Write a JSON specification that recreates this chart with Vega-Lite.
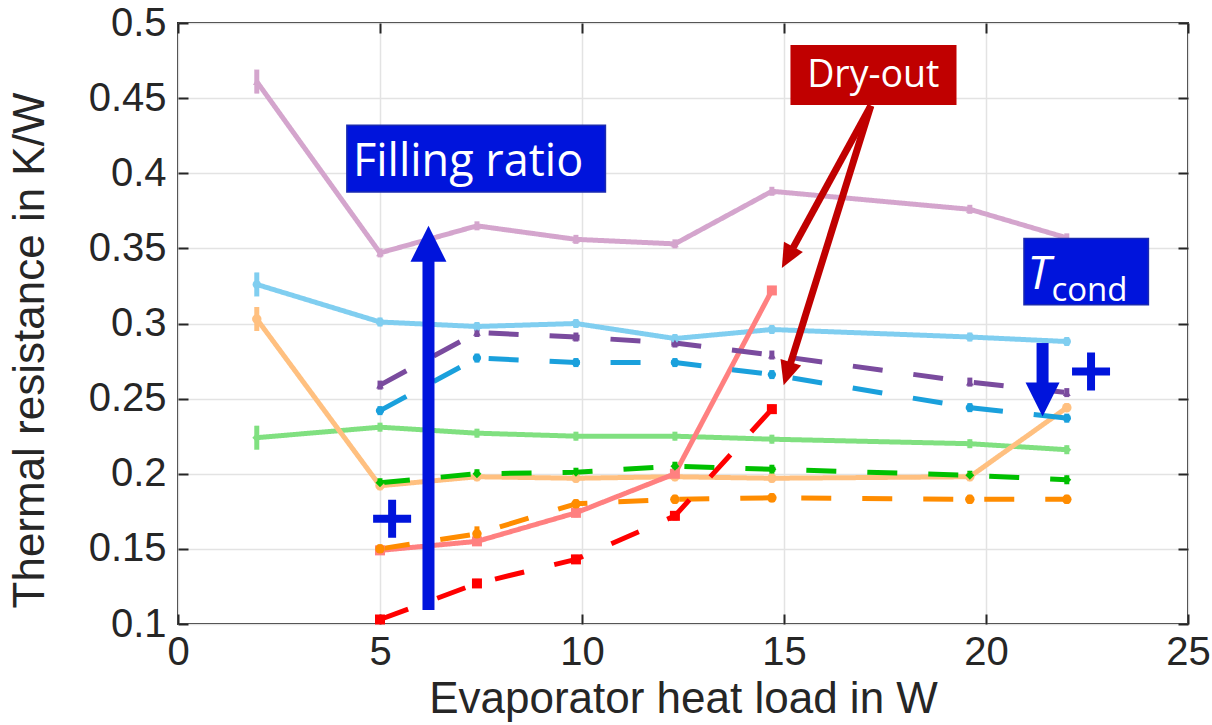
{
  "$schema": "https://vega.github.io/schema/vega-lite/v6.json",
  "width": 1010,
  "height": 601,
  "autosize": {"type": "none"},
  "padding": {"left": 178, "top": 23, "right": 24, "bottom": 101},
  "background": "white",
  "config": {
    "view": {"stroke": "#262626", "strokeWidth": 2},
    "font": "Liberation Sans",
    "axis": {
      "domain": false,
      "gridColor": "#E3E3E3",
      "gridWidth": 1.5,
      "tickColor": "#262626",
      "tickWidth": 2,
      "tickSize": -10,
      "labelFont": "Liberation Sans",
      "labelColor": "#262626",
      "labelFontSize": 40,
      "labelFlush": false,
      "labelOverlap": false,
      "titleFont": "Liberation Sans",
      "titleColor": "#262626",
      "titleFontSize": 44,
      "titleFontWeight": "normal"
    }
  },
  "datasets": {
    "pts": [
      {"series": "FR5-low", "fr": "FR5", "tc": "low", "x": 1.95, "y": 0.461, "err": 0.008},
      {"series": "FR5-low", "fr": "FR5", "tc": "low", "x": 5.0, "y": 0.347, "err": 0.003},
      {"series": "FR5-low", "fr": "FR5", "tc": "low", "x": 7.4, "y": 0.365, "err": 0.003},
      {"series": "FR5-low", "fr": "FR5", "tc": "low", "x": 9.85, "y": 0.356, "err": 0.003},
      {"series": "FR5-low", "fr": "FR5", "tc": "low", "x": 12.3, "y": 0.353, "err": 0.003},
      {"series": "FR5-low", "fr": "FR5", "tc": "low", "x": 14.7, "y": 0.388, "err": 0.003},
      {"series": "FR5-low", "fr": "FR5", "tc": "low", "x": 19.6, "y": 0.376, "err": 0.003},
      {"series": "FR5-low", "fr": "FR5", "tc": "low", "x": 22.0, "y": 0.357, "err": 0.003},

      {"series": "FR4-low", "fr": "FR4", "tc": "low", "x": 1.95, "y": 0.326, "err": 0.008},
      {"series": "FR4-low", "fr": "FR4", "tc": "low", "x": 5.0, "y": 0.301, "err": 0.003},
      {"series": "FR4-low", "fr": "FR4", "tc": "low", "x": 7.4, "y": 0.298, "err": 0.003},
      {"series": "FR4-low", "fr": "FR4", "tc": "low", "x": 9.85, "y": 0.300, "err": 0.003},
      {"series": "FR4-low", "fr": "FR4", "tc": "low", "x": 12.3, "y": 0.290, "err": 0.003},
      {"series": "FR4-low", "fr": "FR4", "tc": "low", "x": 14.7, "y": 0.296, "err": 0.003},
      {"series": "FR4-low", "fr": "FR4", "tc": "low", "x": 19.6, "y": 0.291, "err": 0.003},
      {"series": "FR4-low", "fr": "FR4", "tc": "low", "x": 22.0, "y": 0.288, "err": 0.003},

      {"series": "FR3-low", "fr": "FR3", "tc": "low", "x": 1.95, "y": 0.224, "err": 0.008},
      {"series": "FR3-low", "fr": "FR3", "tc": "low", "x": 5.0, "y": 0.231, "err": 0.003},
      {"series": "FR3-low", "fr": "FR3", "tc": "low", "x": 7.4, "y": 0.227, "err": 0.003},
      {"series": "FR3-low", "fr": "FR3", "tc": "low", "x": 9.85, "y": 0.225, "err": 0.003},
      {"series": "FR3-low", "fr": "FR3", "tc": "low", "x": 12.3, "y": 0.225, "err": 0.003},
      {"series": "FR3-low", "fr": "FR3", "tc": "low", "x": 14.7, "y": 0.223, "err": 0.003},
      {"series": "FR3-low", "fr": "FR3", "tc": "low", "x": 19.6, "y": 0.220, "err": 0.003},
      {"series": "FR3-low", "fr": "FR3", "tc": "low", "x": 22.0, "y": 0.216, "err": 0.003},

      {"series": "FR2-low", "fr": "FR2", "tc": "low", "x": 1.95, "y": 0.303, "err": 0.008},
      {"series": "FR2-low", "fr": "FR2", "tc": "low", "x": 5.0, "y": 0.192, "err": 0.003},
      {"series": "FR2-low", "fr": "FR2", "tc": "low", "x": 7.4, "y": 0.198, "err": 0.003},
      {"series": "FR2-low", "fr": "FR2", "tc": "low", "x": 9.85, "y": 0.197, "err": 0.003},
      {"series": "FR2-low", "fr": "FR2", "tc": "low", "x": 12.3, "y": 0.198, "err": 0.003},
      {"series": "FR2-low", "fr": "FR2", "tc": "low", "x": 14.7, "y": 0.197, "err": 0.003},
      {"series": "FR2-low", "fr": "FR2", "tc": "low", "x": 19.6, "y": 0.198, "err": 0.003},
      {"series": "FR2-low", "fr": "FR2", "tc": "low", "x": 22.0, "y": 0.244, "err": 0.003},

      {"series": "FR1-low", "fr": "FR1", "tc": "low", "x": 5.0, "y": 0.149, "err": 0.003},
      {"series": "FR1-low", "fr": "FR1", "tc": "low", "x": 7.4, "y": 0.155, "err": 0.003},
      {"series": "FR1-low", "fr": "FR1", "tc": "low", "x": 9.85, "y": 0.174, "err": 0.003},
      {"series": "FR1-low", "fr": "FR1", "tc": "low", "x": 12.3, "y": 0.200, "err": 0.003},
      {"series": "FR1-low", "fr": "FR1", "tc": "low", "x": 14.7, "y": 0.322, "err": 0.003},

      {"series": "FR5-high", "fr": "FR5", "tc": "high", "x": 5.0, "y": 0.259, "err": 0.003},
      {"series": "FR5-high", "fr": "FR5", "tc": "high", "x": 7.4, "y": 0.294, "err": 0.003},
      {"series": "FR5-high", "fr": "FR5", "tc": "high", "x": 9.85, "y": 0.291, "err": 0.003},
      {"series": "FR5-high", "fr": "FR5", "tc": "high", "x": 12.3, "y": 0.287, "err": 0.003},
      {"series": "FR5-high", "fr": "FR5", "tc": "high", "x": 14.7, "y": 0.279, "err": 0.003},
      {"series": "FR5-high", "fr": "FR5", "tc": "high", "x": 19.6, "y": 0.261, "err": 0.003},
      {"series": "FR5-high", "fr": "FR5", "tc": "high", "x": 22.0, "y": 0.254, "err": 0.003},

      {"series": "FR4-high", "fr": "FR4", "tc": "high", "x": 5.0, "y": 0.242, "err": 0.003},
      {"series": "FR4-high", "fr": "FR4", "tc": "high", "x": 7.4, "y": 0.277, "err": 0.003},
      {"series": "FR4-high", "fr": "FR4", "tc": "high", "x": 9.85, "y": 0.274, "err": 0.003},
      {"series": "FR4-high", "fr": "FR4", "tc": "high", "x": 12.3, "y": 0.274, "err": 0.003},
      {"series": "FR4-high", "fr": "FR4", "tc": "high", "x": 14.7, "y": 0.266, "err": 0.003},
      {"series": "FR4-high", "fr": "FR4", "tc": "high", "x": 19.6, "y": 0.244, "err": 0.003},
      {"series": "FR4-high", "fr": "FR4", "tc": "high", "x": 22.0, "y": 0.237, "err": 0.003},

      {"series": "FR3-high", "fr": "FR3", "tc": "high", "x": 5.0, "y": 0.194, "err": 0.003},
      {"series": "FR3-high", "fr": "FR3", "tc": "high", "x": 7.4, "y": 0.200, "err": 0.003},
      {"series": "FR3-high", "fr": "FR3", "tc": "high", "x": 9.85, "y": 0.201, "err": 0.003},
      {"series": "FR3-high", "fr": "FR3", "tc": "high", "x": 12.3, "y": 0.205, "err": 0.003},
      {"series": "FR3-high", "fr": "FR3", "tc": "high", "x": 14.7, "y": 0.203, "err": 0.003},
      {"series": "FR3-high", "fr": "FR3", "tc": "high", "x": 19.6, "y": 0.199, "err": 0.003},
      {"series": "FR3-high", "fr": "FR3", "tc": "high", "x": 22.0, "y": 0.196, "err": 0.003},

      {"series": "FR2-high", "fr": "FR2", "tc": "high", "x": 5.0, "y": 0.150, "err": 0.003},
      {"series": "FR2-high", "fr": "FR2", "tc": "high", "x": 7.4, "y": 0.160, "err": 0.005},
      {"series": "FR2-high", "fr": "FR2", "tc": "high", "x": 9.85, "y": 0.180, "err": 0.003},
      {"series": "FR2-high", "fr": "FR2", "tc": "high", "x": 12.3, "y": 0.183, "err": 0.003},
      {"series": "FR2-high", "fr": "FR2", "tc": "high", "x": 14.7, "y": 0.184, "err": 0.003},
      {"series": "FR2-high", "fr": "FR2", "tc": "high", "x": 19.6, "y": 0.183, "err": 0.003},
      {"series": "FR2-high", "fr": "FR2", "tc": "high", "x": 22.0, "y": 0.183, "err": 0.003},

      {"series": "FR1-high", "fr": "FR1", "tc": "high", "x": 5.0, "y": 0.103, "err": 0.003},
      {"series": "FR1-high", "fr": "FR1", "tc": "high", "x": 7.4, "y": 0.127, "err": 0.003},
      {"series": "FR1-high", "fr": "FR1", "tc": "high", "x": 9.85, "y": 0.143, "err": 0.003},
      {"series": "FR1-high", "fr": "FR1", "tc": "high", "x": 12.3, "y": 0.172, "err": 0.003},
      {"series": "FR1-high", "fr": "FR1", "tc": "high", "x": 14.7, "y": 0.243, "err": 0.003}
    ],
    "blueBoxes": [
      {"x1": 4.18, "x2": 10.58, "y1": 0.3875, "y2": 0.432},
      {"x1": 20.94, "x2": 24.02, "y1": 0.3125, "y2": 0.3565}
    ],
    "redBox": [
      {"x1": 15.16, "x2": 19.27, "y1": 0.4454, "y2": 0.4853}
    ]
  },
  "layer": [
    {
      "data": {"name": "pts"},
      "mark": {"type": "line", "strokeWidth": 5, "strokeJoin": "round"},
      "encoding": {
        "x": {
          "field": "x", "type": "quantitative",
          "scale": {"domain": [0, 25], "nice": false, "zero": false},
          "axis": {
            "orient": "bottom", "values": [0, 5, 10, 15, 20, 25], "grid": true,
            "title": "Evaporator heat load in W", "labelPadding": 18, "titlePadding": 5
          }
        },
        "y": {
          "field": "y", "type": "quantitative",
          "scale": {"domain": [0.1, 0.5], "nice": false, "zero": false},
          "axis": {
            "orient": "left", "values": [0.1, 0.15, 0.2, 0.25, 0.3, 0.35, 0.4, 0.45, 0.5],
            "format": "~g", "grid": true,
            "title": "Thermal resistance in K/W", "labelPadding": 22, "titlePadding": 36,
            "titleY": 327
          }
        },
        "color": {
          "field": "series", "type": "nominal", "legend": null,
          "scale": {
            "domain": ["FR1-low", "FR2-low", "FR3-low", "FR4-low", "FR5-low", "FR1-high", "FR2-high", "FR3-high", "FR4-high", "FR5-high"],
            "range": ["#FF8080", "#FFC080", "#80E080", "#80CEF0", "#D4A5CD", "#FF0000", "#FF8C00", "#00C000", "#1AA0DC", "#7A4B9E"]
          }
        },
        "strokeDash": {
          "field": "tc", "type": "nominal", "legend": null,
          "scale": {"domain": ["low", "high"], "range": [[1, 0], [30, 31]]}
        }
      }
    },
    {
      "data": {"name": "pts"},
      "mark": {"type": "errorbar", "ticks": false, "rule": {"strokeWidth": 5}},
      "encoding": {
        "x": {
          "field": "x", "type": "quantitative",
          "axis": {"orient": "top", "values": [0, 5, 10, 15, 20, 25], "labels": false, "title": null, "grid": false}
        },
        "y": {
          "field": "y", "type": "quantitative",
          "axis": {"orient": "right", "values": [0.1, 0.15, 0.2, 0.25, 0.3, 0.35, 0.4, 0.45, 0.5], "labels": false, "title": null, "grid": false}
        },
        "yError": {"field": "err"},
        "color": {"field": "series", "type": "nominal", "legend": null}
      }
    },
    {
      "data": {"name": "pts"},
      "mark": {"type": "point", "filled": true, "opacity": 1},
      "encoding": {
        "x": {"field": "x", "type": "quantitative", "axis": null},
        "y": {"field": "y", "type": "quantitative", "axis": null},
        "color": {"field": "series", "type": "nominal", "legend": null},
        "shape": {
          "field": "fr", "type": "nominal", "legend": null,
          "scale": {"domain": ["FR1", "FR2", "FR3", "FR4", "FR5"], "range": ["square", "circle", "diamond", "circle", "triangle-up"]}
        },
        "size": {
          "field": "fr", "type": "nominal", "legend": null,
          "scale": {"domain": ["FR1", "FR2", "FR3", "FR4", "FR5"], "range": [100, 60, 160, 60, 150]}
        }
      }
    },
    {
      "data": {"name": "blueBoxes"},
      "mark": {"type": "rect", "fill": "#0014DC", "stroke": "#1A2AB0", "strokeWidth": 1.5},
      "encoding": {
        "x": {"field": "x1", "type": "quantitative", "axis": null},
        "x2": {"field": "x2"},
        "y": {"field": "y1", "type": "quantitative", "axis": null},
        "y2": {"field": "y2"}
      }
    },
    {
      "data": {"name": "redBox"},
      "mark": {"type": "rect", "fill": "#C00000"},
      "encoding": {
        "x": {"field": "x1", "type": "quantitative", "axis": null},
        "x2": {"field": "x2"},
        "y": {"field": "y1", "type": "quantitative", "axis": null},
        "y2": {"field": "y2"}
      }
    },
    {
      "data": {"values": [{"x": 7.18, "y": 0.3982, "label": "Filling ratio"}]},
      "mark": {"type": "text", "font": "Open Sans", "fontSize": 45, "color": "white", "align": "center", "baseline": "alphabetic"},
      "encoding": {
        "x": {"field": "x", "type": "quantitative", "axis": null},
        "y": {"field": "y", "type": "quantitative", "axis": null},
        "text": {"field": "label"}
      }
    },
    {
      "data": {"values": [{"x": 17.21, "y": 0.4571, "label": "Dry-out"}]},
      "mark": {"type": "text", "font": "Open Sans", "fontSize": 37.5, "color": "white", "align": "center", "baseline": "alphabetic"},
      "encoding": {
        "x": {"field": "x", "type": "quantitative", "axis": null},
        "y": {"field": "y", "type": "quantitative", "axis": null},
        "text": {"field": "label"}
      }
    },
    {
      "data": {"values": [{"x": 21.03, "y": 0.3227, "label": "T"}]},
      "mark": {"type": "text", "font": "Open Sans", "fontStyle": "italic", "fontSize": 46, "color": "white", "align": "left", "baseline": "alphabetic"},
      "encoding": {
        "x": {"field": "x", "type": "quantitative", "axis": null},
        "y": {"field": "y", "type": "quantitative", "axis": null},
        "text": {"field": "label"}
      }
    },
    {
      "data": {"values": [{"x": 21.62, "y": 0.3149, "label": "cond"}]},
      "mark": {"type": "text", "font": "Open Sans", "fontSize": 33, "color": "white", "align": "left", "baseline": "alphabetic"},
      "encoding": {
        "x": {"field": "x", "type": "quantitative", "axis": null},
        "y": {"field": "y", "type": "quantitative", "axis": null},
        "text": {"field": "label"}
      }
    },
    {
      "data": {"values": [
        {"x": 6.2, "y": 0.1093, "x2": 6.2, "y2": 0.343},
        {"x": 21.4, "y": 0.287, "x2": 21.4, "y2": 0.258}
      ]},
      "mark": {"type": "rule", "color": "#0014DC", "strokeWidth": 12},
      "encoding": {
        "x": {"field": "x", "type": "quantitative", "axis": null},
        "y": {"field": "y", "type": "quantitative", "axis": null},
        "x2": {"field": "x2"},
        "y2": {"field": "y2"}
      }
    },
    {
      "data": {"values": [{"x": 6.2, "y": 0.353}]},
      "mark": {"type": "point", "shape": "M0,-1L1,1L-1,1Z", "size": 1296, "filled": true, "color": "#0014DC", "opacity": 1},
      "encoding": {
        "x": {"field": "x", "type": "quantitative", "axis": null},
        "y": {"field": "y", "type": "quantitative", "axis": null}
      }
    },
    {
      "data": {"values": [{"x": 21.4, "y": 0.2495}]},
      "mark": {"type": "point", "shape": "M-1,-1L1,-1L0,1Z", "size": 1156, "filled": true, "color": "#0014DC", "opacity": 1},
      "encoding": {
        "x": {"field": "x", "type": "quantitative", "axis": null},
        "y": {"field": "y", "type": "quantitative", "axis": null}
      }
    },
    {
      "data": {"values": [
        {"x": 17.15, "y": 0.445, "x2": 15.19, "y2": 0.3487},
        {"x": 17.15, "y": 0.445, "x2": 15.14, "y2": 0.2717}
      ]},
      "mark": {"type": "rule", "color": "#C00000", "strokeWidth": 7},
      "encoding": {
        "x": {"field": "x", "type": "quantitative", "axis": null},
        "y": {"field": "y", "type": "quantitative", "axis": null},
        "x2": {"field": "x2"},
        "y2": {"field": "y2"}
      }
    },
    {
      "data": {"values": [{"x": 15.09, "y": 0.344}]},
      "mark": {"type": "point", "shape": "M0,-1L0.9,1L-0.9,1Z", "size": 576, "angle": 208.8, "filled": true, "color": "#C00000", "opacity": 1},
      "encoding": {
        "x": {"field": "x", "type": "quantitative", "axis": null},
        "y": {"field": "y", "type": "quantitative", "axis": null}
      }
    },
    {
      "data": {"values": [{"x": 15.08, "y": 0.2666}]},
      "mark": {"type": "point", "shape": "M0,-1L0.9,1L-0.9,1Z", "size": 576, "angle": 197.4, "filled": true, "color": "#C00000", "opacity": 1},
      "encoding": {
        "x": {"field": "x", "type": "quantitative", "axis": null},
        "y": {"field": "y", "type": "quantitative", "axis": null}
      }
    },
    {
      "data": {"values": [{"x": 5.3, "y": 0.17}, {"x": 22.6, "y": 0.268}]},
      "mark": {"type": "point", "shape": "M-1,-0.21H1V0.21H-1Z M-0.21,-1H0.21V1H-0.21Z", "size": 1444, "filled": true, "color": "#0014DC", "opacity": 1},
      "encoding": {
        "x": {"field": "x", "type": "quantitative", "axis": null},
        "y": {"field": "y", "type": "quantitative", "axis": null}
      }
    }
  ],
  "resolve": {"axis": {"x": "independent", "y": "independent"}}
}
